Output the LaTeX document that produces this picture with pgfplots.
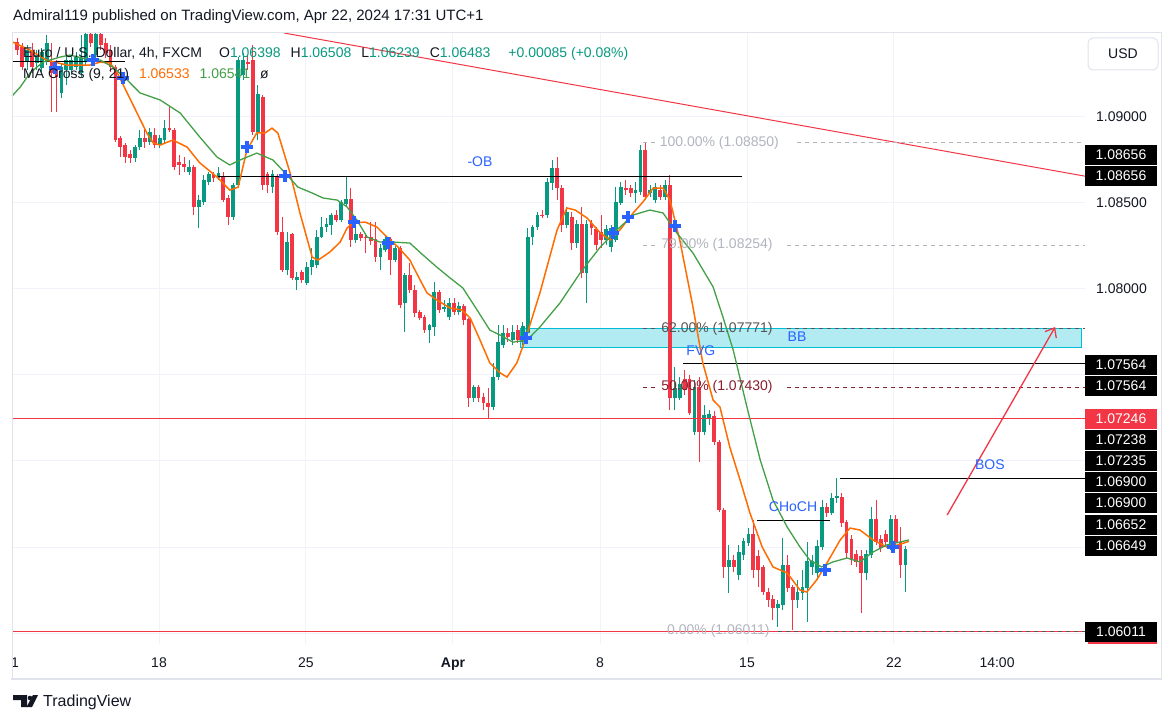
\documentclass[border=0pt]{standalone}
\usepackage{pgfplots}
\pgfplotsset{compat=1.18}
\usepackage{pgfplotstable}
\usetikzlibrary{arrows.meta}
\usepackage{fontspec}
\setmainfont{Liberation Sans}
\definecolor{upc}{HTML}{089981}
\definecolor{dnc}{HTML}{F23645}
\definecolor{maO}{HTML}{FF6D00}
\definecolor{maG}{HTML}{43A047}
\definecolor{xb}{HTML}{2962FF}
\definecolor{gridc}{HTML}{F0F3FA}
\definecolor{txt}{HTML}{131722}
\definecolor{fibg}{HTML}{B2B5BE}
\definecolor{fibd}{HTML}{555555}
\definecolor{fibr}{HTML}{8B1E2D}
\definecolor{bbf}{HTML}{B2EBF2}
\definecolor{bbl}{HTML}{00BCD4}
\definecolor{framec}{HTML}{E0E3EB}
\newcommand\fs[1]{\fontsize{#1}{#1}\selectfont}

\pgfplotstableread{
j o h l c
0 1.09435 1.09459 1.09360 1.09389
1 1.09406 1.09430 1.09273 1.09290
2 1.09319 1.09418 1.09273 1.09389
3 1.09389 1.09430 1.09256 1.09290
4 1.09314 1.09389 1.09273 1.09360
5 1.09284 1.09400 1.09261 1.09372
6 1.09319 1.09477 1.09302 1.09430
7 1.09319 1.09430 1.09028 1.09256
8 1.09290 1.09331 1.09028 1.09232
9 1.09140 1.09314 1.09110 1.09290
10 1.09273 1.09360 1.09186 1.09331
11 1.09273 1.09348 1.09244 1.09331
12 1.09290 1.09377 1.09273 1.09348
13 1.09256 1.09477 1.09232 1.09342
14 1.09319 1.09489 1.09302 1.09477
15 1.09477 1.09489 1.09406 1.09430
16 1.09360 1.09489 1.09342 1.09477
17 1.09477 1.09489 1.09389 1.09418
18 1.09430 1.09459 1.09342 1.09372
19 1.09389 1.09418 1.09261 1.09290
20 1.09290 1.09302 1.08854 1.08866
21 1.08877 1.08889 1.08767 1.08825
22 1.08837 1.08849 1.08733 1.08767
23 1.08779 1.08808 1.08733 1.08761
24 1.08761 1.08837 1.08738 1.08825
25 1.08825 1.08924 1.08808 1.08877
26 1.08877 1.08941 1.08819 1.08854
27 1.08854 1.08935 1.08837 1.08907
28 1.08895 1.08935 1.08819 1.08837
29 1.08837 1.08895 1.08819 1.08877
30 1.08866 1.08982 1.08849 1.08935
31 1.08935 1.09058 1.08912 1.08924
32 1.08924 1.08935 1.08692 1.08709
33 1.08733 1.08779 1.08663 1.08721
34 1.08721 1.08767 1.08680 1.08709
35 1.08680 1.08750 1.08663 1.08709
36 1.08709 1.08721 1.08430 1.08476
37 1.08476 1.08546 1.08354 1.08517
38 1.08505 1.08663 1.08488 1.08633
39 1.08621 1.08680 1.08604 1.08663
40 1.08663 1.08680 1.08621 1.08645
41 1.08645 1.08709 1.08633 1.08674
42 1.08651 1.08680 1.08505 1.08517
43 1.08528 1.08546 1.08372 1.08418
44 1.08418 1.08616 1.08401 1.08604
45 1.08604 1.09348 1.08592 1.09331
46 1.09244 1.09372 1.09215 1.09331
47 1.09319 1.09360 1.09273 1.09308
48 1.09331 1.09418 1.08895 1.08912
49 1.08912 1.09186 1.08866 1.09128
50 1.09116 1.09128 1.08575 1.08604
51 1.08663 1.08680 1.08558 1.08604
52 1.08592 1.08692 1.08558 1.08663
53 1.08651 1.08669 1.08314 1.08331
54 1.08331 1.08418 1.08098 1.08110
55 1.08110 1.08331 1.08081 1.08268
56 1.08314 1.08326 1.08052 1.08064
57 1.08052 1.08098 1.07994 1.08069
58 1.08093 1.08110 1.08035 1.08052
59 1.08035 1.08156 1.08023 1.08127
60 1.08127 1.08238 1.08081 1.08168
61 1.08139 1.08343 1.08121 1.08302
62 1.08302 1.08418 1.08297 1.08360
63 1.08360 1.08413 1.08331 1.08372
64 1.08372 1.08442 1.08314 1.08430
65 1.08430 1.08459 1.08389 1.08401
66 1.08401 1.08517 1.08389 1.08500
67 1.08494 1.08651 1.08482 1.08523
68 1.08523 1.08587 1.08244 1.08285
69 1.08285 1.08354 1.08268 1.08314
70 1.08314 1.08331 1.08279 1.08297
71 1.08302 1.08320 1.08209 1.08297
72 1.08302 1.08389 1.08256 1.08279
73 1.08285 1.08389 1.08156 1.08185
74 1.08185 1.08262 1.08110 1.08238
75 1.08226 1.08308 1.08214 1.08285
76 1.08285 1.08302 1.08081 1.08168
77 1.08168 1.08250 1.08156 1.08238
78 1.08238 1.08250 1.07889 1.07907
79 1.07919 1.08093 1.07750 1.08081
80 1.08081 1.08151 1.07977 1.07994
81 1.07994 1.08023 1.07837 1.07861
82 1.07861 1.07878 1.07820 1.07831
83 1.07837 1.07849 1.07744 1.07761
84 1.07761 1.07797 1.07686 1.07785
85 1.07779 1.08040 1.07726 1.07982
86 1.07982 1.07994 1.07861 1.07878
87 1.07884 1.07936 1.07866 1.07895
88 1.07837 1.07947 1.07820 1.07913
89 1.07913 1.07947 1.07849 1.07866
90 1.07866 1.07924 1.07849 1.07901
91 1.07901 1.07913 1.07791 1.07820
92 1.07820 1.07831 1.07313 1.07366
93 1.07366 1.07442 1.07342 1.07430
94 1.07430 1.07442 1.07342 1.07366
95 1.07372 1.07396 1.07296 1.07337
96 1.07337 1.07424 1.07250 1.07313
97 1.07313 1.07570 1.07296 1.07488
98 1.07488 1.07791 1.07471 1.07686
99 1.07674 1.07791 1.07657 1.07744
100 1.07744 1.07773 1.07691 1.07720
101 1.07703 1.07791 1.07674 1.07749
102 1.07761 1.07791 1.07686 1.07703
103 1.07691 1.07808 1.07674 1.07779
104 1.07744 1.08354 1.07726 1.08302
105 1.08302 1.08372 1.08256 1.08360
106 1.08360 1.08447 1.08343 1.08430
107 1.08430 1.08459 1.08413 1.08424
108 1.08430 1.08645 1.08413 1.08621
109 1.08616 1.08750 1.08575 1.08703
110 1.08698 1.08767 1.08517 1.08587
111 1.08587 1.08604 1.08331 1.08372
112 1.08372 1.08476 1.08354 1.08447
113 1.08418 1.08447 1.08226 1.08268
114 1.08268 1.08401 1.08238 1.08372
115 1.08372 1.08476 1.08064 1.08093
116 1.08093 1.08401 1.07919 1.08372
117 1.08378 1.08401 1.08314 1.08354
118 1.08343 1.08360 1.08226 1.08256
119 1.08326 1.08430 1.08238 1.08285
120 1.08285 1.08372 1.08256 1.08343
121 1.08244 1.08372 1.08214 1.08354
122 1.08285 1.08592 1.08273 1.08500
123 1.08500 1.08621 1.08488 1.08592
124 1.08587 1.08633 1.08546 1.08575
125 1.08587 1.08604 1.08535 1.08558
126 1.08558 1.08621 1.08500 1.08575
127 1.08563 1.08837 1.08546 1.08808
128 1.08808 1.08849 1.08517 1.08535
129 1.08558 1.08604 1.08535 1.08575
130 1.08517 1.08616 1.08500 1.08592
131 1.08575 1.08604 1.08517 1.08535
132 1.08535 1.08633 1.08517 1.08604
133 1.08604 1.08663 1.07296 1.07366
134 1.07366 1.07547 1.07296 1.07424
135 1.07366 1.07488 1.07354 1.07442
136 1.07471 1.07529 1.07384 1.07413
137 1.07471 1.07500 1.07267 1.07279
138 1.07168 1.07471 1.07151 1.07430
139 1.07430 1.07488 1.06994 1.07168
140 1.07168 1.07325 1.07151 1.07267
141 1.07250 1.07296 1.07209 1.07273
142 1.07256 1.07290 1.07093 1.07110
143 1.07110 1.07122 1.06703 1.06715
144 1.06715 1.06726 1.06320 1.06384
145 1.06384 1.06512 1.06233 1.06424
146 1.06424 1.06453 1.06354 1.06384
147 1.06337 1.06512 1.06308 1.06466
148 1.06454 1.06553 1.06424 1.06529
149 1.06524 1.06611 1.06506 1.06570
150 1.06570 1.06657 1.06320 1.06366
151 1.06442 1.06483 1.06267 1.06366
152 1.06378 1.06395 1.06221 1.06238
153 1.06238 1.06262 1.06151 1.06192
154 1.06192 1.06221 1.06076 1.06145
155 1.06145 1.06192 1.06035 1.06163
156 1.06163 1.06553 1.06134 1.06395
157 1.06395 1.06453 1.06238 1.06262
158 1.06262 1.06279 1.06018 1.06192
159 1.06192 1.06308 1.06145 1.06233
160 1.06233 1.06366 1.06192 1.06262
161 1.06262 1.06529 1.06064 1.06413
162 1.06384 1.06453 1.06337 1.06413
163 1.06349 1.06541 1.06308 1.06500
164 1.06500 1.06773 1.06483 1.06732
165 1.06732 1.06756 1.06674 1.06697
166 1.06697 1.06814 1.06686 1.06784
167 1.06784 1.06901 1.06756 1.06796
168 1.06790 1.06814 1.06616 1.06640
169 1.06640 1.06657 1.06436 1.06466
170 1.06541 1.06570 1.06395 1.06424
171 1.06454 1.06483 1.06384 1.06413
172 1.06442 1.06483 1.06117 1.06349
173 1.06349 1.06483 1.06308 1.06454
174 1.06454 1.06732 1.06436 1.06657
175 1.06657 1.06773 1.06512 1.06529
176 1.06541 1.06570 1.06471 1.06494
177 1.06570 1.06599 1.06506 1.06529
178 1.06494 1.06686 1.06483 1.06657
179 1.06657 1.06686 1.06500 1.06524
180 1.06524 1.06616 1.06320 1.06395
181 1.06398 1.06508 1.06239 1.06483
}\candles

\pgfplotstableread{
j p
-0.9 1.09435
2.5 1.09390
6.0 1.09330
10.1 1.09302
14.8 1.09302
16.9 1.09319
18.9 1.09314
20.3 1.09261
24.4 1.09023
26.4 1.08907
27.7 1.08849
29.1 1.08837
31.7 1.08866
34.6 1.08825
37.2 1.08733
40.7 1.08651
43.3 1.08575
45.0 1.08592
46.8 1.08808
48.8 1.08907
50.5 1.08907
51.9 1.08935
53.1 1.08907
55.6 1.08674
57.6 1.08442
60.1 1.08185
61.3 1.08168
63.7 1.08215
65.8 1.08273
67.2 1.08354
68.4 1.08384
70.9 1.08389
73.3 1.08360
75.5 1.08297
77.6 1.08244
80.0 1.08168
82.1 1.08052
83.5 1.07977
85.5 1.07936
88.2 1.07889
90.6 1.07878
92.3 1.07831
94.3 1.07703
96.3 1.07570
98.4 1.07512
99.8 1.07488
101.8 1.07570
103.5 1.07703
106.5 1.07977
110.0 1.08343
112.0 1.08471
113.7 1.08459
116.1 1.08413
118.8 1.08326
120.8 1.08285
122.8 1.08343
125.5 1.08442
127.5 1.08506
129.6 1.08587
131.6 1.08587
133.0 1.08517
135.0 1.08285
137.7 1.07895
139.7 1.07570
141.8 1.07354
143.2 1.07313
145.2 1.07081
147.3 1.06889
149.3 1.06698
151.8 1.06500
154.0 1.06384
156.9 1.06349
159.5 1.06250
160.9 1.06238
162.9 1.06308
165.0 1.06407
167.7 1.06541
169.7 1.06610
171.7 1.06599
174.4 1.06541
177.2 1.06500
179.5 1.06512
181.7 1.06533
}\maorange

\pgfplotstableread{
j p
-1.08 1.09122
0.6 1.09174
2.6 1.09256
5.2 1.09319
8.7 1.09348
10.7 1.09360
13.4 1.09342
16.9 1.09331
19.5 1.09290
22.4 1.09215
25.0 1.09140
29.1 1.09099
33.2 1.09023
37.2 1.08883
40.7 1.08767
43.3 1.08721
45.4 1.08750
48.8 1.08790
52.1 1.08750
54.6 1.08674
57.2 1.08592
60.1 1.08558
62.3 1.08529
65.2 1.08517
67.2 1.08477
69.2 1.08401
71.3 1.08302
73.9 1.08273
76.6 1.08273
80.0 1.08267
82.7 1.08197
85.5 1.08127
88.2 1.08064
90.8 1.08006
93.7 1.07878
96.3 1.07761
98.4 1.07732
101.0 1.07691
103.9 1.07703
106.5 1.07779
110.6 1.07919
114.7 1.08093
118.8 1.08244
122.2 1.08343
125.5 1.08430
128.9 1.08459
131.6 1.08442
134.4 1.08326
137.7 1.08209
141.8 1.08012
143.8 1.07837
145.9 1.07645
148.7 1.07313
151.4 1.07006
154.0 1.06773
156.9 1.06616
159.5 1.06500
161.5 1.06424
163.9 1.06384
166.2 1.06413
169.1 1.06436
171.7 1.06413
174.4 1.06471
177.2 1.06512
179.9 1.06529
181.7 1.06541
}\magreen

\pgfplotstableread{
j p
7.7 1.09285
15.4 1.09331
21.5 1.09227
46.8 1.08825
54.5 1.08657
68.6 1.08389
75.5 1.08267
103.7 1.07715
121.4 1.08326
124.4 1.08418
134.0 1.08366
164.6 1.06366
178.5 1.06500
}\crosses

\pgfplotsset{
  candlebar/.style n args={2}{draw=none, mark=none, forget plot,
    error bars/.cd, y dir=plus, y explicit, error mark=none,
    error bar style={draw=#1, line width=#2, solid}},
}

\begin{document}
\begin{tikzpicture}
\path[use as bounding box, fill=white] (0,0) rectangle (1174pt,723pt);
\begin{axis}[
  at={(12pt,79pt)}, anchor=south west,
  scale only axis, width=1073pt, height=611pt,
  xmin=-1.08, xmax=217.59, ymin=1.0593604, ymax=1.0948837,
  clip=false,
  axis line style={draw=none},
  major tick length=0pt,
  xtick={28.88,58.83,88.79,118.75,148.71,178.66},
  xticklabels={18,25,\textbf{Apr},8,15,22},
  extra x ticks={-0.47,199.66},
  extra x tick labels={1,14:00},
  extra x tick style={grid=none},
  ytick={1.060,1.065,1.070,1.075,1.080,1.085,1.090},
  yticklabels={,,,,1.08000,1.08500,1.09000},
  yticklabel pos=right,
  yticklabel style={anchor=west, inner sep=0pt, xshift=11pt},
  xticklabel style={anchor=center, inner sep=0pt, yshift=-18pt, text height=10pt, text depth=0pt},
  tick label style={font=\fs{14}, text=txt},
  grid=major, grid style={draw=gridc, line width=1pt},
]
% BB box
\filldraw[fill=bbf, draw=bbl, line width=1pt] (axis cs:102.45,1.07657) rectangle (axis cs:216.8,1.07771);
% candles: wicks
\addplot[candlebar={upc}{1pt}]
  table[x=j, y expr={\thisrow{c}>=\thisrow{o} ? \thisrow{l} : nan}, y error plus expr={\thisrow{h}-\thisrow{l}}] {\candles};
\addplot[candlebar={dnc}{1pt}]
  table[x=j, y expr={\thisrow{c}<\thisrow{o} ? \thisrow{l} : nan}, y error plus expr={\thisrow{h}-\thisrow{l}}] {\candles};
% bodies
\addplot[candlebar={upc}{3.8pt}]
  table[x=j, y expr={\thisrow{c}>=\thisrow{o} ? \thisrow{o} : nan}, y error plus expr={\thisrow{c}-\thisrow{o}+0.00003}] {\candles};
\addplot[candlebar={dnc}{3.8pt}]
  table[x=j, y expr={\thisrow{c}<\thisrow{o} ? \thisrow{c} : nan}, y error plus expr={\thisrow{o}-\thisrow{c}+0.00003}] {\candles};
% horizontal levels
\draw[dnc, line width=1pt] (axis cs:-1.08,1.07246) -- (axis cs:217.59,1.07246);
\draw[dnc, line width=1pt] (axis cs:-1.08,1.06011) -- (axis cs:217.59,1.06011);
\draw[dnc, line width=1pt] (axis cs:54.4,1.09488) -- (axis cs:217.59,1.08656);
\draw[black, line width=1pt] (axis cs:40.9,1.08656) -- (axis cs:147.7,1.08656);
\draw[black, line width=1pt] (axis cs:-0.86,1.09325) -- (axis cs:21.97,1.09325);
\draw[black, line width=1pt] (axis cs:135.7,1.07564) -- (axis cs:217.59,1.07564);
\draw[black, line width=1pt] (axis cs:167.7,1.06900) -- (axis cs:217.59,1.06900);
\draw[black, line width=1pt] (axis cs:150.7,1.06652) -- (axis cs:165.6,1.06652);
% moving averages
\addplot[maO, line width=1.5pt, mark=none] table[x=j, y=p] {\maorange};
\addplot[maG, line width=1.3pt, mark=none] table[x=j, y=p] {\magreen};
\addplot[only marks, mark=+, mark size=6pt, xb, mark options={line width=4pt}] table[x=j, y=p] {\crosses};
% fib levels
\draw[fibg, line width=1pt, dash pattern=on 4pt off 4pt] (axis cs:127.5,1.08850) -- (axis cs:130.4,1.08850);
\draw[fibg, line width=1pt, dash pattern=on 4pt off 4pt] (axis cs:158.9,1.08850) -- (axis cs:217.59,1.08850);
\node[anchor=west, inner sep=0pt, font=\fs{14}, text=fibg] at (axis cs:130.9,1.08850) {100.00\% (1.08850)};
\draw[fibg, line width=1pt, dash pattern=on 4pt off 4pt] (axis cs:127.5,1.08254) -- (axis cs:130.4,1.08254);
\draw[fibg, line width=1pt, dash pattern=on 4pt off 4pt] (axis cs:156.9,1.08254) -- (axis cs:217.59,1.08254);
\node[anchor=west, inner sep=0pt, font=\fs{14}, text=fibg] at (axis cs:131.2,1.08254) {79.00\% (1.08254)};
\draw[fibd, line width=1pt, dash pattern=on 4pt off 4pt] (axis cs:127.5,1.07771) -- (axis cs:130.4,1.07771);
\draw[fibd, line width=1pt, dash pattern=on 4pt off 4pt] (axis cs:156.9,1.07771) -- (axis cs:217.59,1.07771);
\node[anchor=west, inner sep=0pt, font=\fs{14}, text=fibd] at (axis cs:131.2,1.07771) {62.00\% (1.07771)};
\draw[fibr, line width=1pt, dash pattern=on 4pt off 4pt] (axis cs:127.5,1.07430) -- (axis cs:130.4,1.07430);
\draw[fibr, line width=1pt, dash pattern=on 4pt off 4pt] (axis cs:156.9,1.07430) -- (axis cs:217.59,1.07430);
\node[anchor=west, inner sep=0pt, font=\fs{14}, text=fibr] at (axis cs:131.2,1.07430) {50.00\% (1.07430)};
\draw[fibd, line width=1pt, dash pattern=on 4pt off 4pt] (axis cs:155.0,1.06011) -- (axis cs:217.59,1.06011);
\node[anchor=west, inner sep=0pt, font=\fs{14}, text=fibg] at (axis cs:132.4,1.06011) {0.00\% (1.06011)};
% arrow
\draw[dnc, line width=1.3pt, -{Straight Barb[length=8pt,width=13pt]}] (axis cs:189.5,1.06686) -- (axis cs:211.5,1.07779);
% annotations
\node[font=\fs{14}, text=xb] at (axis cs:94.3,1.08738) {-OB};
\node[font=\fs{14}, text=xb] at (axis cs:158.9,1.07721) {BB};
\node[font=\fs{14}, text=xb] at (axis cs:139.3,1.07639) {FVG};
\node[font=\fs{14}, text=xb] at (axis cs:158.1,1.06732) {CHoCH};
\node[font=\fs{14}, text=xb] at (axis cs:198.2,1.06977) {BOS};
\end{axis}
\begin{scope}[x=1pt, y=-1pt, shift={(0pt,723pt)}]
% frame
\draw[framec, line width=1pt] (12,33) -- (1161,33) -- (1161,679);
\draw[framec, line width=1pt] (12,33) -- (12,679);
\draw[framec, line width=2.5pt] (11,679) -- (1162,679);
% header
\node[anchor=west, inner sep=0pt, font=\fs{15}, text=txt] at (13,17) {Admiral119 published on TradingView.com, Apr 22, 2024 17:31 UTC+1};
\node[anchor=base west, inner sep=0pt, font=\fs{14}, text=txt] at (23,58) {Euro / U.S. Dollar, 4h, FXCM\hspace{17pt}O\textcolor{upc}{1.06398}\hspace{10pt}H\textcolor{upc}{1.06508}\hspace{10pt}L\textcolor{upc}{1.06239}\hspace{10pt}C\textcolor{upc}{1.06483}\hspace{18pt}\textcolor{upc}{+0.00085 (+0.08\%)}};
\node[anchor=base west, inner sep=0pt, font=\fs{14}, text=txt] at (23,79) {MA Cross (9, 21)\hspace{10pt}\textcolor{maO}{1.06533}\hspace{10pt}\textcolor{maG}{1.06541}\hspace{10pt}ø};
% USD box
\draw[framec, line width=1pt, rounded corners=5pt, fill=white] (1088,38) rectangle (1158,70);
\node[font=\fs{14}, text=txt] at (1123,54) {USD};
% price labels
\foreach \yy/\tt in {155/1.08656,176/1.08656,365/1.07564,386/1.07564,440/1.07238,461/1.07235,482/1.06900,503/1.06900,525/1.06652,546/1.06649,632/1.06011}{
  \fill[black] (1085,\yy-10) rectangle (1157,\yy+10);
  \node[text=white, font=\fs{14}, inner sep=0pt] at (1121,\yy) {\tt};
}
\fill[dnc] (1085,409) rectangle (1157,429);
\node[text=white, font=\fs{14}, inner sep=0pt] at (1121,419) {1.07246};
\draw[dnc, line width=1.5pt] (1088,643) -- (1157,643);
% logo
\fill[txt] (13,695) -- (27,695) -- (27,707) -- (21,707) -- (21,700) -- (13,700) -- cycle;
\fill[txt] (30,698) circle (2.3);
\fill[txt] (33,695) -- (38,695) -- (32,707) -- (26.5,707) -- cycle;
\node[anchor=west, inner sep=0pt, font=\fs{16}, text=txt] at (43,702) {TradingView};
\end{scope}
\end{tikzpicture}
\end{document}
